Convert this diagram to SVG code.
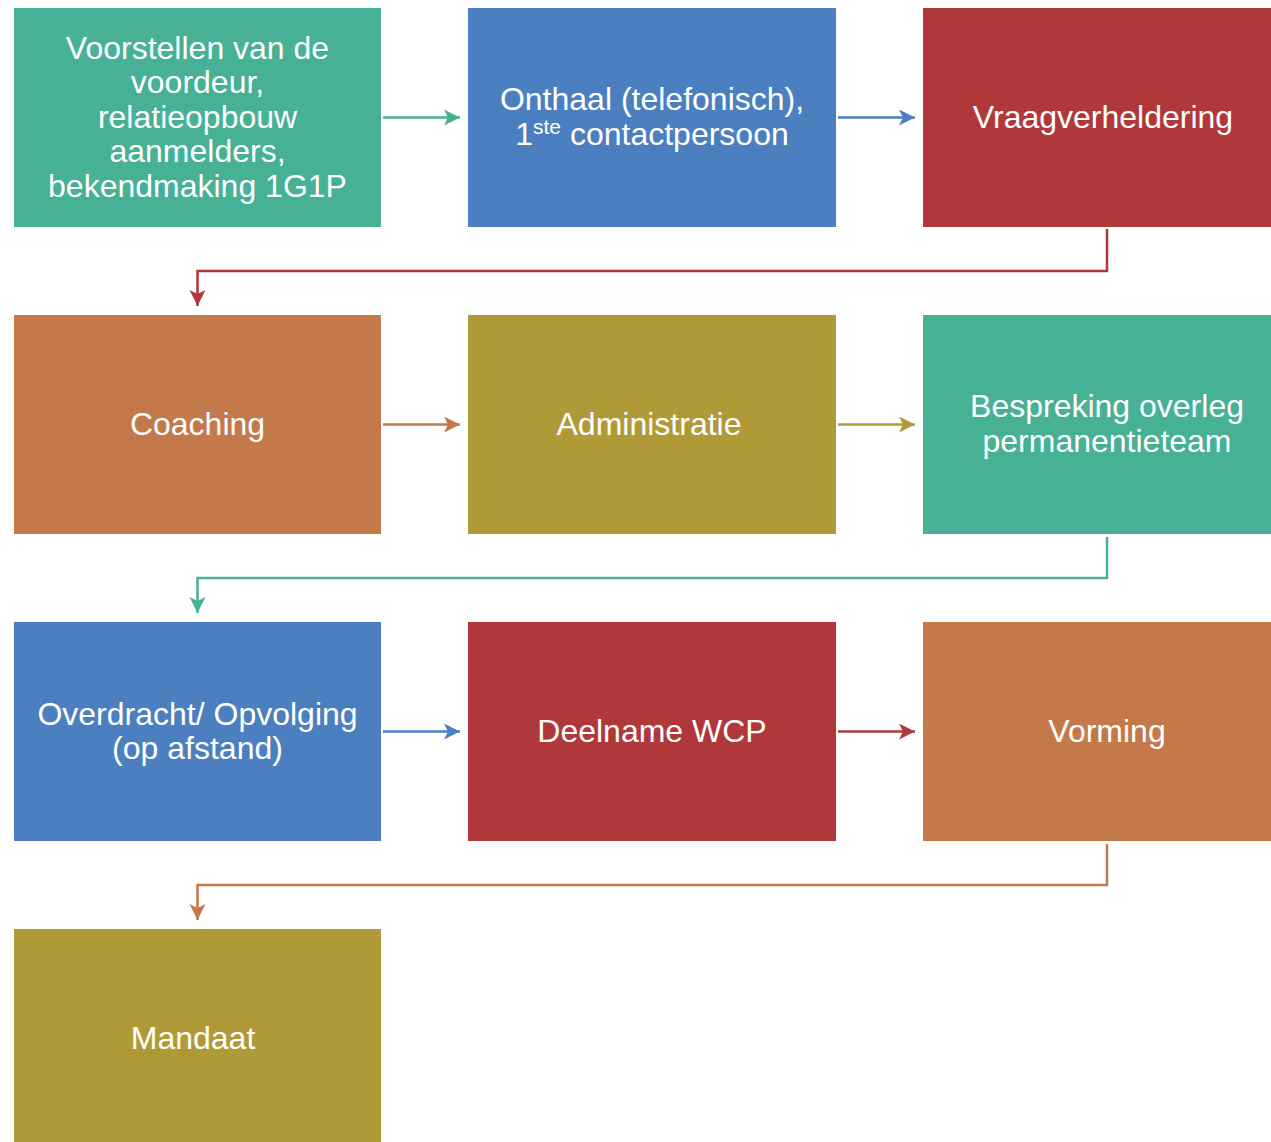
<svg xmlns="http://www.w3.org/2000/svg" width="1271" height="1142" viewBox="0 0 1271 1142">
<style>
.t{font-family:"Liberation Sans",Arial,sans-serif;font-size:32px;fill:#fff;text-anchor:middle}
.c{fill:none;stroke-width:2.5}
</style>
<defs>
<marker id="mg" markerUnits="userSpaceOnUse" markerWidth="20" markerHeight="20" refX="16" refY="8" orient="auto"><path d="M0,0 L16,8 L0,16 L4,8 Z" fill="#46B195"/></marker>
<marker id="mb" markerUnits="userSpaceOnUse" markerWidth="20" markerHeight="20" refX="16" refY="8" orient="auto"><path d="M0,0 L16,8 L0,16 L4,8 Z" fill="#4C7FC0"/></marker>
<marker id="mr" markerUnits="userSpaceOnUse" markerWidth="20" markerHeight="20" refX="16" refY="8" orient="auto"><path d="M0,0 L16,8 L0,16 L4,8 Z" fill="#B0383B"/></marker>
<marker id="mo" markerUnits="userSpaceOnUse" markerWidth="20" markerHeight="20" refX="16" refY="8" orient="auto"><path d="M0,0 L16,8 L0,16 L4,8 Z" fill="#C4794B"/></marker>
<marker id="my" markerUnits="userSpaceOnUse" markerWidth="20" markerHeight="20" refX="16" refY="8" orient="auto"><path d="M0,0 L16,8 L0,16 L4,8 Z" fill="#B09A38"/></marker>
</defs>
<rect width="1271" height="1142" fill="#fff"/>
<g id="connectors">
<path class="c" stroke="#46B195" d="M383,117.5 H460" marker-end="url(#mg)"/>
<path class="c" stroke="#4C7FC0" d="M838,117.5 H915" marker-end="url(#mb)"/>
<path class="c" stroke="#B0383B" d="M1107,229 V271 H197.5 V306" marker-end="url(#mr)"/>
<path class="c" stroke="#C4794B" d="M383,424.5 H460" marker-end="url(#mo)"/>
<path class="c" stroke="#B09A38" d="M838,424.5 H915" marker-end="url(#my)"/>
<path class="c" stroke="#46B195" d="M1107,537 V578 H197.5 V613" marker-end="url(#mg)"/>
<path class="c" stroke="#4C7FC0" d="M383,731.5 H460" marker-end="url(#mb)"/>
<path class="c" stroke="#B0383B" d="M838,731.5 H915" marker-end="url(#mr)"/>
<path class="c" stroke="#C4794B" d="M1107,844 V885 H197.5 V920" marker-end="url(#mo)"/>
</g>
<g id="n1"><rect x="14" y="8" width="367" height="219" fill="#46B195"/>
<text class="t" x="197.5" y="59">Voorstellen van de</text>
<text class="t" x="197.5" y="93">voordeur,</text>
<text class="t" x="197.5" y="128">relatieopbouw</text>
<text class="t" x="197.5" y="162">aanmelders,</text>
<text class="t" x="197.5" y="197">bekendmaking 1G1P</text></g>
<g id="n2"><rect x="468" y="8" width="368" height="219" fill="#4C7FC0"/>
<text class="t" x="652" y="110">Onthaal (telefonisch),</text>
<text class="t" x="652" y="145">1<tspan font-size="21" dy="-11">ste</tspan><tspan dy="11"> contactpersoon</tspan></text></g>
<g id="n3"><rect x="923" y="8" width="348" height="219" fill="#B0383B"/>
<text class="t" x="1103" y="128">Vraagverheldering</text></g>
<g id="n4"><rect x="14" y="315" width="367" height="219" fill="#C4794B"/>
<text class="t" x="197.5" y="435">Coaching</text></g>
<g id="n5"><rect x="468" y="315" width="368" height="219" fill="#B09A38"/>
<text class="t" x="649" y="435">Administratie</text></g>
<g id="n6"><rect x="923" y="315" width="348" height="219" fill="#46B195"/>
<text class="t" x="1107" y="417">Bespreking overleg</text>
<text class="t" x="1107" y="452">permanentieteam</text></g>
<g id="n7"><rect x="14" y="622" width="367" height="219" fill="#4C7FC0"/>
<text class="t" x="197.5" y="725">Overdracht/ Opvolging</text>
<text class="t" x="197.5" y="759">(op afstand)</text></g>
<g id="n8"><rect x="468" y="622" width="368" height="219" fill="#B0383B"/>
<text class="t" x="652" y="742">Deelname WCP</text></g>
<g id="n9"><rect x="923" y="622" width="348" height="219" fill="#C4794B"/>
<text class="t" x="1107" y="742">Vorming</text></g>
<g id="n10"><rect x="14" y="929" width="367" height="213" fill="#B09A38"/>
<text class="t" x="193" y="1049">Mandaat</text></g>
</svg>
